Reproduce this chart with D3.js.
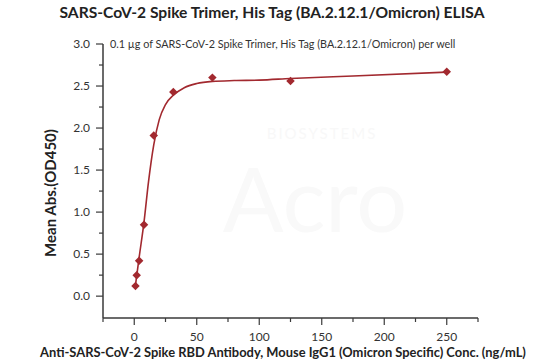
<!DOCTYPE html>
<html>
<head>
<meta charset="utf-8">
<script src="https://cdn.jsdelivr.net/npm/d3@7"></script>
<style>
  body { margin: 0; background: #fff; }
  svg { font-family: Lato, "Open Sans", sans-serif; }
</style>
</head>
<body>
<svg id="chart" width="550" height="364"></svg>
<script>
// measured points
const concs = [0.98, 1.95, 3.9, 7.8, 15.6, 31.25, 62.5, 125, 250];
const ods   = [0.12, 0.25, 0.42, 0.85, 1.91, 2.43, 2.60, 2.56, 2.67];
// fitted curve
const fitX = [0.98, 4, 7.8, 11.4, 15.6, 20, 25, 31.25, 40, 50, 62.5, 80, 100, 125, 175, 250];
const fitY = [0.13, 0.47, 0.88, 1.36, 1.80, 2.10, 2.28, 2.39, 2.48, 2.53, 2.555, 2.565, 2.57, 2.59, 2.62, 2.665];
const xTicks = [0, 50, 100, 150, 200, 250];
const yTicks = [0.0, 0.5, 1.0, 1.5, 2.0, 2.5, 3.0];

const svg = d3.select('#chart');
const red = '#a2292f';
const axisCol = '#3a3a3a';

const x = d3.scaleLinear().domain([-25, 275]).range([103, 478]);
const y = d3.scaleLinear().domain([-0.26, 3.0]).range([318, 44]);

// watermark
svg.append('text')
  .attr('x', 322).attr('y', 139)
  .attr('text-anchor', 'middle')
  .style('font-size', '15px').style('letter-spacing', '2px')
  .attr('fill', '#f8f8f8')
  .text('BIOSYSTEMS');
svg.append('text')
  .attr('x', 315).attr('y', 232)
  .attr('text-anchor', 'middle')
  .style('font-size', '90px')
  .attr('fill', '#f9f9f9')
  .text('Acro');

// title
svg.append('text')
  .attr('x', 272).attr('y', 18)
  .attr('text-anchor', 'middle')
  .style('font-size', '15.6px').style('font-weight', 'bold')
  .attr('fill', '#222')
  .text('SARS-CoV-2 Spike Trimer, His Tag (BA.2.12.1/Omicron) ELISA');

svg.append('text')
  .attr('x', 110).attr('y', 48)
  .style('font-size', '10.8px')
  .attr('fill', '#333')
  .text('0.1 µg of SARS-CoV-2 Spike Trimer, His Tag (BA.2.12.1/Omicron) per well');

// y axis
const gy = svg.append('g').attr('transform', 'translate(103,0)');
gy.append('line').attr('y1', y(3.0)).attr('y2', 318)
  .attr('stroke', axisCol).attr('stroke-width', 1.5);
gy.selectAll('line.minor').data(d3.range(0.25, 3.0, 0.5)).join('line')
  .attr('class', 'minor')
  .attr('x1', -4).attr('x2', 0)
  .attr('y1', d => y(d)).attr('y2', d => y(d))
  .attr('stroke', axisCol).attr('stroke-width', 1.2);
gy.selectAll('line.major').data(yTicks).join('line')
  .attr('class', 'major')
  .attr('x1', -7).attr('x2', 0)
  .attr('y1', d => y(d)).attr('y2', d => y(d))
  .attr('stroke', axisCol).attr('stroke-width', 1.2);
gy.selectAll('text').data(yTicks).join('text')
  .attr('x', -13).attr('y', d => y(d)).attr('dy', '0.35em')
  .attr('text-anchor', 'end')
  .style('font-size', '12px').attr('fill', '#333')
  .text(d3.format('.1f'));

// x axis
const gx = svg.append('g').attr('transform', 'translate(0,318)');
gx.append('line').attr('x1', 103).attr('x2', 478)
  .attr('stroke', axisCol).attr('stroke-width', 1.5);
gx.selectAll('line.minor').data(d3.range(-25, 276, 50)).join('line')
  .attr('class', 'minor')
  .attr('x1', d => x(d)).attr('x2', d => x(d))
  .attr('y1', 0).attr('y2', 4)
  .attr('stroke', axisCol).attr('stroke-width', 1.2);
gx.selectAll('line.major').data(xTicks).join('line')
  .attr('class', 'major')
  .attr('x1', d => x(d)).attr('x2', d => x(d))
  .attr('y1', 0).attr('y2', 7)
  .attr('stroke', axisCol).attr('stroke-width', 1.2);
gx.selectAll('text').data(xTicks).join('text')
  .attr('x', d => x(d)).attr('y', 23)
  .attr('text-anchor', 'middle')
  .style('font-size', '12px').attr('fill', '#333')
  .text(d => d);

// axis titles
svg.append('text')
  .attr('transform', 'rotate(-90)')
  .attr('x', -193).attr('y', 56)
  .attr('text-anchor', 'middle')
  .style('font-size', '15px').style('font-weight', 'bold')
  .attr('fill', '#222')
  .text('Mean Abs.(OD450)');
svg.append('text')
  .attr('x', 283).attr('y', 357)
  .attr('text-anchor', 'middle')
  .style('font-size', '12.9px').style('font-weight', 'bold')
  .attr('fill', '#222')
  .text('Anti-SARS-CoV-2 Spike RBD Antibody, Mouse IgG1 (Omicron Specific) Conc. (ng/mL)');

// fit line
const fit = fitX.map((v, i) => ({c: v, od: fitY[i]}));
svg.append('path').datum(fit)
  .attr('fill', 'none').attr('stroke', red).attr('stroke-width', 1.6)
  .attr('d', d3.line().x(d => x(d.c)).y(d => y(d.od)).curve(d3.curveMonotoneX));

// points (square turned 45 degrees)
const pts = concs.map((v, i) => ({c: v, od: ods[i]}));
svg.selectAll('path.pt').data(pts).join('path')
  .attr('class', 'pt')
  .attr('transform', d => `translate(${x(d.c)},${y(d.od)}) rotate(45)`)
  .attr('d', d3.symbol(d3.symbolSquare, 36))
  .attr('fill', red);
</script>
</body>
</html>
